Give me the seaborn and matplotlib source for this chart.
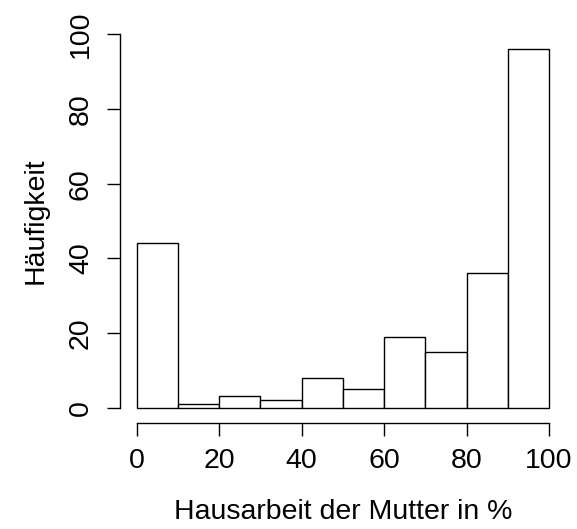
import numpy as np
import pandas as pd
import matplotlib
matplotlib.use("Agg")
import matplotlib.pyplot as plt
import seaborn as sns

# Data
bin_edges = [0, 10, 20, 30, 40, 50, 60, 70, 80, 90, 100]
counts = [44, 1, 3, 2, 8, 5, 19, 15, 36, 96]
x_ticks = [0, 20, 40, 60, 80, 100]
y_ticks = [0, 20, 40, 60, 80, 100]
x_label = "Hausarbeit der Mutter in %"
y_label = "Häufigkeit"

sns.set_style("white")
plt.rcParams['font.family'] = ['Liberation Sans', 'DejaVu Sans']
plt.rcParams['text.color'] = 'black'
plt.rcParams['axes.labelcolor'] = 'black'
plt.rcParams['xtick.color'] = 'black'
plt.rcParams['ytick.color'] = 'black'

df = pd.DataFrame({
    "mid": [(a + b) / 2 for a, b in zip(bin_edges[:-1], bin_edges[1:])],
    "n": counts,
})

fig = plt.figure(figsize=(5.77, 5.29), dpi=100)
ax = fig.add_axes([0.2083, 0.2011, 0.7718, 0.7622])

sns.histplot(data=df, x="mid", weights="n", bins=bin_edges, ax=ax,
             color="white", edgecolor="black", linewidth=1.0, alpha=1.0)

ax.set_xlim(-4, 104)
ax.set_ylim(-4, 104)

for s in ["top", "right"]:
    ax.spines[s].set_visible(False)
ax.spines["bottom"].set_bounds(0, 100)
ax.spines["left"].set_bounds(0, 100)
for s in ["bottom", "left"]:
    ax.spines[s].set_color("black")
    ax.spines[s].set_linewidth(1.0)

fs = 20.5
ax.set_xticks(x_ticks)
ax.set_yticks(y_ticks)
ax.set_xticklabels([str(v) for v in x_ticks])
ax.set_yticklabels([str(v) for v in y_ticks], rotation=90, va="center")
ax.tick_params(axis="both", direction="out", length=9.4, width=1.0,
               colors="black", labelsize=fs, bottom=True, left=True)
ax.tick_params(axis="x", pad=9)
ax.tick_params(axis="y", pad=9.5)

ax.set_xlabel(x_label, fontsize=fs, labelpad=18, color="black")
ax.set_ylabel(y_label, fontsize=fs, labelpad=14, color="black")

fig.savefig("out.png", dpi=100)
